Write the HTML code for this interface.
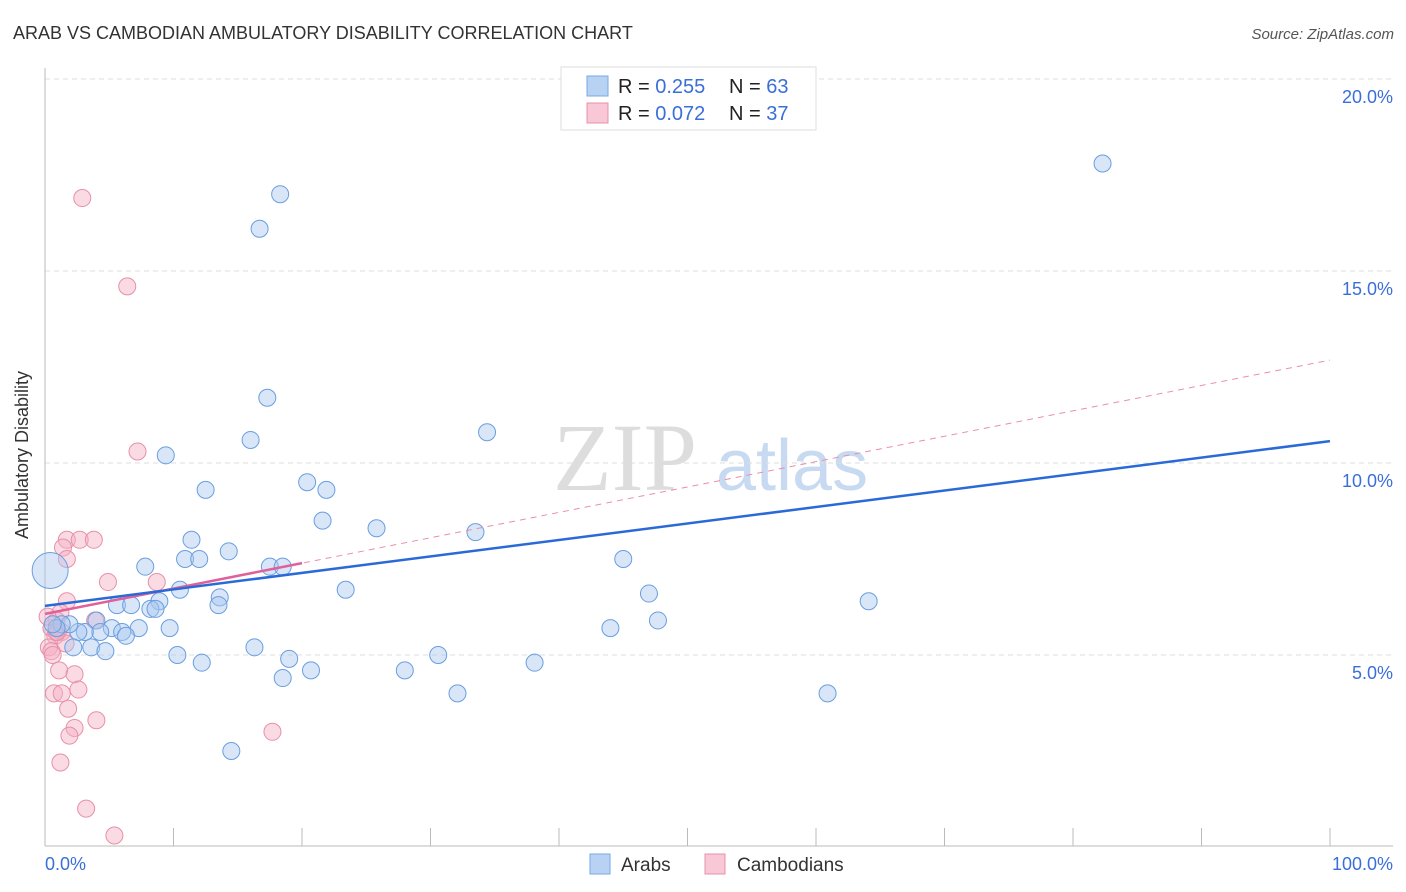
<!DOCTYPE html>
<html><head><meta charset="utf-8"><style>
body{margin:0;background:#fff;font-family:"Liberation Sans",sans-serif}
svg{display:block}
</style></head><body>
<svg id="chart" width="1406" height="892" xmlns="http://www.w3.org/2000/svg">
<text x="13" y="39" font-size="18" fill="#333">ARAB VS CAMBODIAN AMBULATORY DISABILITY CORRELATION CHART</text>
<text x="1394" y="39" font-size="15" fill="#555" font-style="italic" text-anchor="end">Source: ZipAtlas.com</text>
<g><text x="553" y="490" font-size="96" font-family="Liberation Serif,serif" fill="#ddd">ZIP</text><text x="716" y="490" font-size="72" fill="#c8daf2">atlas</text></g>
<g id="grid"></g>
<g id="axes"></g>
<g id="pts"></g>
<g id="lines"></g>
<text x="28" y="455" font-size="18" fill="#333" text-anchor="middle" transform="rotate(-90 28 455)">Ambulatory Disability</text>
<text x="45" y="870" font-size="18" fill="#3a6fd8">0.0%</text>
<text x="1393" y="870" font-size="18" fill="#3a6fd8" text-anchor="end">100.0%</text>
<g>
<rect x="561" y="67" width="255" height="63" fill="#fff" stroke="#ddd"/>
<rect x="587" y="76" width="21" height="20" fill="#b8d2f4" stroke="#7aa8e0"/>
<rect x="587" y="103" width="21" height="20" fill="#f8c8d6" stroke="#e890a8"/>
<text x="618" y="93" font-size="20" fill="#222">R = <tspan fill="#3a6fd8">0.255</tspan><tspan x="729">N = </tspan><tspan fill="#3a6fd8">63</tspan></text>
<text x="618" y="120" font-size="20" fill="#222">R = <tspan fill="#3a6fd8">0.072</tspan><tspan x="729">N = </tspan><tspan fill="#3a6fd8">37</tspan></text>
</g>
<g>
<rect x="590" y="854" width="20" height="20" fill="#b8d2f4" stroke="#7aa8e0"/>
<text x="621" y="871" font-size="19" fill="#333">Arabs</text>
<rect x="705" y="854" width="20" height="20" fill="#f8c8d6" stroke="#e890a8"/>
<text x="737" y="871" font-size="19" fill="#333">Cambodians</text>
</g>
</svg>
<script>
const yTicks=[5,10,15,20];
const yTickLabels=["5.0%","10.0%","15.0%","20.0%"];
const arabX=[18.3,16.7,82.3,17.3,16.0,34.4,9.4,12.5,20.4,21.9,21.6,25.8,33.5,11.4,14.3,10.9,12.0,17.5,18.5,7.8,45.0,10.5,23.4,47.0,64.1,13.6,13.5,5.6,6.7,8.9,8.2,8.6,4.0,7.3,9.7,5.2,6.0,6.3,4.3,3.1,2.6,1.9,1.3,0.9,0.6,2.2,3.6,4.7,16.3,10.3,44.0,47.7,30.6,19.0,12.2,20.7,18.5,28.0,38.1,32.1,60.9,14.5,0.4];
const arabY=[17.0,16.1,17.8,11.7,10.6,10.8,10.2,9.3,9.5,9.3,8.5,8.3,8.2,8.0,7.7,7.5,7.5,7.3,7.3,7.3,7.5,6.7,6.7,6.6,6.4,6.5,6.3,6.3,6.3,6.4,6.2,6.2,5.9,5.7,5.7,5.7,5.6,5.5,5.6,5.6,5.6,5.8,5.8,5.7,5.8,5.2,5.2,5.1,5.2,5.0,5.7,5.9,5.0,4.9,4.8,4.6,4.4,4.6,4.8,4.0,4.0,2.5,7.2];
const arabR=[8.5,8.5,8.5,8.5,8.5,8.5,8.5,8.5,8.5,8.5,8.5,8.5,8.5,8.5,8.5,8.5,8.5,8.5,8.5,8.5,8.5,8.5,8.5,8.5,8.5,8.5,8.5,8.5,8.5,8.5,8.5,8.5,8.5,8.5,8.5,8.5,8.5,8.5,8.5,8.5,8.5,8.5,8.5,8.5,8.5,8.5,8.5,8.5,8.5,8.5,8.5,8.5,8.5,8.5,8.5,8.5,8.5,8.5,8.5,8.5,8.5,8.5,18];
const camX=[2.9,6.4,7.2,1.7,2.7,3.8,1.4,1.7,4.9,8.7,1.7,1.2,3.9,0.9,0.5,1.0,1.3,0.8,0.3,0.5,0.6,1.6,1.1,2.3,0.7,1.3,2.6,1.8,4.0,2.3,1.9,17.7,1.2,3.2,5.4,0.2,0.9];
const camY=[16.9,14.6,10.3,8.0,8.0,8.0,7.8,7.5,6.9,6.9,6.4,6.1,5.9,5.9,5.7,5.6,5.6,5.5,5.2,5.1,5.0,5.3,4.6,4.5,4.0,4.0,4.1,3.6,3.3,3.1,2.9,3.0,2.2,1.0,0.3,6.0,5.6];
const arabLine=[6.28,10.57];
const camLine=[6.07,12.68];
const NS="http://www.w3.org/2000/svg";
const X=v=>45+v*12.85, Y=v=>847-v*38.4;
function mk(t,a,p){const e=document.createElementNS(NS,t);for(const k in a)e.setAttribute(k,a[k]);p.appendChild(e);return e;}
const grid=document.getElementById('grid'),axes=document.getElementById('axes'),pts=document.getElementById('pts'),lines=document.getElementById('lines');
yTicks.forEach((v,i)=>{
 const l=mk('line',{x1:45,x2:1393,y1:Y(v),y2:Y(v),stroke:'#ddd','stroke-dasharray':'5,4'},grid);
 
 
 const t=mk('text',{x:1393,y:Y(v)+24,'font-size':18,fill:'#3a6fd8','text-anchor':'end'},grid);
 t.textContent=yTickLabels[i];
 
 
});
mk('line',{x1:45,x2:45,y1:68,y2:846,stroke:'#bbb'},axes);
mk('line',{x1:45,x2:1393,y1:846,y2:846,stroke:'#bbb'},axes);
for(let i=0;i<=10;i++){const tk=mk('line',{x1:X(i*10),x2:X(i*10),y1:828,y2:846,stroke:'#bbb'},axes);
 
 }
camX.forEach((x,i)=>{const c=mk('circle',{cx:X(x),cy:Y(camY[i]),r:8.5,fill:'#f4b0c4','fill-opacity':0.45,stroke:'#e890a8','stroke-width':1},pts);
 
 });
arabX.forEach((x,i)=>{const c=mk('circle',{cx:X(x),cy:Y(arabY[i]),r:arabR[i],fill:'#a8c8f0','fill-opacity':0.45,stroke:'#6a9ee0','stroke-width':1},pts);
 
 });
const d=mk('line',{x1:X(0),y1:Y(camLine[0]),x2:X(100),y2:Y(camLine[1]),stroke:'#e890a8','stroke-dasharray':'6,5','stroke-width':1},lines);


const cs=(camLine[1]-camLine[0])/100;
const p=mk('line',{x1:X(0),y1:Y(camLine[0]),x2:X(20),y2:Y(camLine[0]+cs*20),stroke:'#e0609a','stroke-width':2.5},lines);


const a=mk('line',{x1:X(0),y1:Y(arabLine[0]),x2:X(100),y2:Y(arabLine[1]),stroke:'#2a6ad8','stroke-width':2.5},lines);


</script>
</body></html>
